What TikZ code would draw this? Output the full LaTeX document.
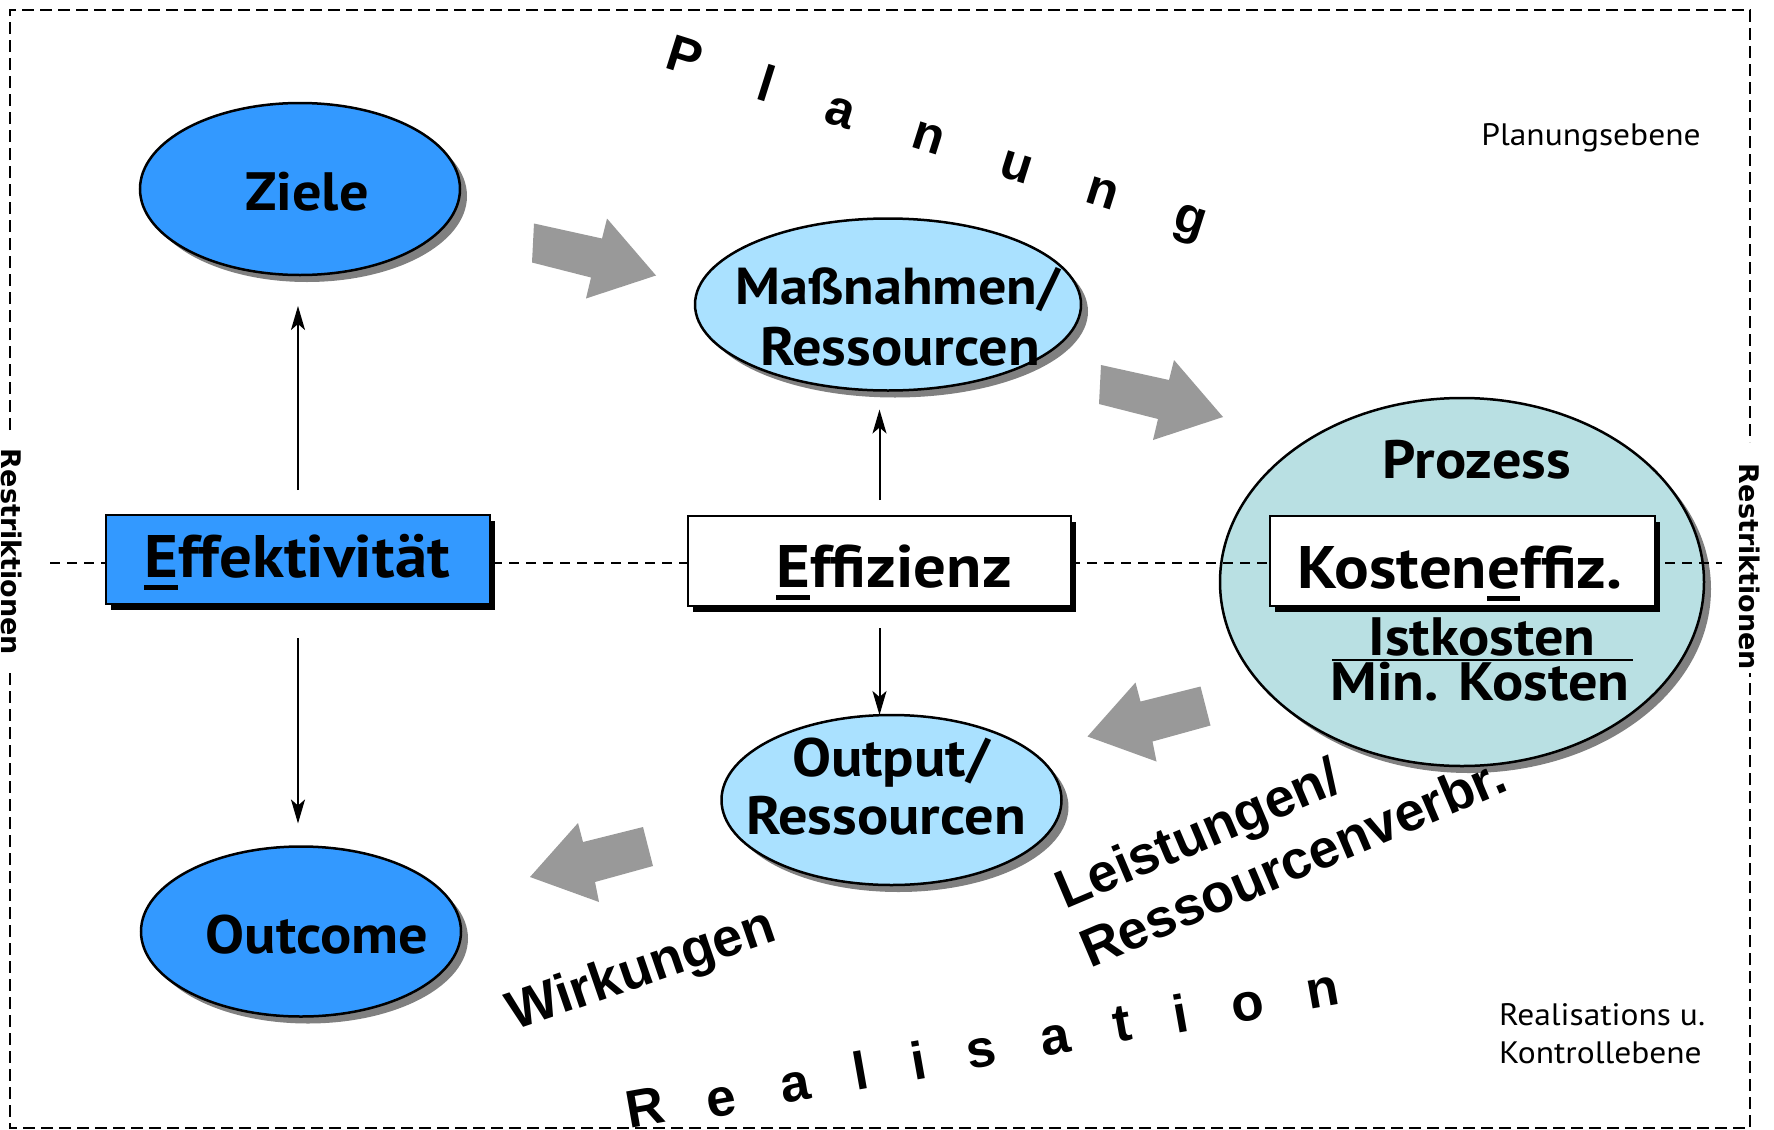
\documentclass[tikz,border=0pt]{standalone}
\usepackage{fontspec}
\setmainfont{PT Sans}[FakeStretch=1.08]
\newfontfamily\arialfont{Liberation Sans}
\newfontfamily\sidefont{DejaVu Sans}
\usetikzlibrary{shapes.geometric, arrows.meta, shadows}

\definecolor{deepblue}{HTML}{3399FF}
\definecolor{paleblue}{HTML}{AAE1FF}
\definecolor{paleteal}{HTML}{B9E0E3}
\definecolor{arrowgray}{HTML}{999999}

% thick underline under a single character
\newcommand\ulc[1]{\setbox0\hbox{#1}\rlap{\rule[-0.22em]{\wd0}{0.085em}}#1}

\tikzset{
  every node/.style={inner sep=0pt, outer sep=0pt},
  oval/.style={ellipse, draw, line width=1.25pt,
    drop shadow={shadow xshift=3.5pt, shadow yshift=-3.5pt, fill=black!50, opacity=1}},
  panel/.style={rectangle, draw, line width=1.25pt,
    drop shadow={shadow xshift=2.5pt, shadow yshift=-3pt, fill=black, opacity=1}},
  bigtxt/.style={anchor=base, font=\fontsize{27}{32}\selectfont\bfseries},
  boxtxt/.style={anchor=base, font=\fontsize{30}{36}\selectfont\bfseries},
  arcletter/.style={anchor=center, font=\arialfont\fontsize{25.5}{30}\selectfont\bfseries},
  slanttxt/.style={anchor=center, font=\arialfont\fontsize{27}{32}\selectfont\bfseries},
  smalltxt/.style={font=\fontsize{15.5}{19}\selectfont},
  sidetxt/.style={anchor=center, font=\sidefont\fontsize{13.5}{16}\selectfont\bfseries},
  frame/.style={line width=1pt, dash pattern=on 6pt off 3pt},
  midline/.style={line width=1pt, dash pattern=on 5pt off 3.5pt},
  thinarrow/.style={line width=1pt, -{Stealth[length=12pt, width=7pt, inset=3pt]}},
  fatright/.pic={\fill[arrowgray] (1,-19) -- (69,-4) -- (74,-24) -- (123,33)
      -- (53,56) -- (58,35) -- (-1,20) -- cycle;},
  fatleft/.pic={\fill[arrowgray] (-70,-23.5) -- (-65,-4.5) -- (-5,-19.5) -- (5,19.5)
      -- (-53,35.5) -- (-49,55.5) -- (-118,30.5) -- cycle;}
}

\begin{document}
\begin{tikzpicture}[x=0.5pt, y=-0.5pt]
\useasboundingbox (0,0) rectangle (1774,1130);

% outer dashed frame, open where the side labels sit
\draw[frame] (10,430) -- (10,10) -- (1750,10) -- (1750,442);
\draw[frame] (10,673) -- (10,1128) -- (1750,1128) -- (1750,673);
\node[sidetxt, rotate=-90] (restL) at (12,552) {Restriktionen};
\node[sidetxt, rotate=-90] (restR) at (1750,567) {Restriktionen};

% level captions
\node[smalltxt, anchor=base] (planEbene) at (1591,145) {Planungsebene};
\node[smalltxt, anchor=base west] (realEbeneA) at (1499,1025) {Realisations u.};
\node[smalltxt, anchor=base west] (realEbeneB) at (1499,1063) {Kontrollebene};

% ellipses
\node[oval, fill=deepblue, minimum width=160pt, minimum height=86pt] (ziele) at (300,189) {};
\node[oval, fill=paleblue, minimum width=193pt, minimum height=86pt] (mass) at (888,304.5) {};
\node[oval, fill=paleteal, minimum width=242pt, minimum height=184pt] (proz) at (1462,582) {};
\node[oval, fill=paleblue, minimum width=170pt, minimum height=85pt] (outp) at (891.5,800) {};
\node[oval, fill=deepblue, minimum width=160pt, minimum height=85pt] (outc) at (301,931.5) {};

% dividing line between the two levels
\draw[midline] (50,563) -- (1722,563);

% boxes
\node[panel, fill=deepblue, minimum width=192pt, minimum height=44.5pt] (effekt) at (298,559.5) {};
\node[panel, fill=white, minimum width=191.5pt, minimum height=45pt] (effiz) at (879.5,561) {};
\node[panel, fill=white, minimum width=192.5pt, minimum height=45pt] (keff) at (1462.5,561) {};

% texts of ellipses and boxes
\node[bigtxt] (tZiele) at (307,210) {Ziele};
\node[bigtxt, font=\fontsize{26}{31}\selectfont\bfseries] (tMassA) at (898,304) {Maßnahmen/};
\node[bigtxt] (tMassB) at (900,365) {Ressourcen};
\node[bigtxt] (tProz) at (1477,478) {Prozess};
\node[bigtxt, font=\fontsize{30}{36}\selectfont\bfseries] (tKeff) at (1460,588) {Kosten\ulc{e}ffiz.};
\node[bigtxt] (tIst) at (1482,655) {Istkosten};
\node[bigtxt] (tMin) at (1480,700) {Min. Kosten};
\draw[line width=1pt] (1332,660) -- (1633,660);
\node[bigtxt] (tOutA) at (891,776) {Output/};
\node[bigtxt] (tOutB) at (886,834) {Ressourcen};
\node[bigtxt] (tOutc) at (317,953) {Outcome};
\node[boxtxt] (tEffekt) at (297,577) {\ulc{E}ffektivität};
\node[boxtxt] (tEffiz) at (894,587) {\ulc{E}ffizienz};

% thin arrows
\draw[thinarrow, shorten <=12.5pt, shorten >=15.5pt] (effekt.north) -- (effekt.north |- ziele.south);
\draw[thinarrow, shorten <=17pt, shorten >=11.5pt] (effekt.south) -- (effekt.south |- outc.north);
\draw[thinarrow, shorten <=8pt, shorten >=9.5pt] (effiz.north) -- (effiz.north |- mass.south);
\draw[thinarrow, shorten <=11pt] (effiz.south) -- (effiz.south |- outp.north);

% broad grey flow arrows
\coordinate (flowA) at (533,242.5);
\coordinate (flowB) at (1100,384);
\coordinate (flowC) at (1205.5,706);
\coordinate (flowD) at (648,846.5);
\pic at (flowA) {fatright};
\pic at (flowB) {fatright};
\pic at (flowC) {fatleft};
\pic at (flowD) {fatleft};

% spaced arc lettering
\foreach \ch/\px/\py [count=\i] in {P/685/56, l/767/83, a/840/113, n/928/138, u/1016/168, n/1102/193, g/1189/225}
  \node[arcletter, rotate=-17.5] (plan\i) at (\px,\py) {\ch};
\foreach \ch/\px/\py [count=\i] in {R/645/1107, e/722/1102, a/796/1087, l/860/1070, i/918/1060, s/982/1053, a/1056/1040, t/1122/1024, i/1180/1013, o/1248/1007, n/1323/993}
  \node[arcletter, font=\arialfont\fontsize{26.5}{31}\selectfont\bfseries, rotate=10] (real\i) at (\px,\py) {\ch};

% slanted flow labels
\node[slanttxt, rotate=19] (wirk) at (642,972) {Wirkungen};
\node[slanttxt, rotate=23, align=left] (leist) at (1280,832) {Leistungen/\\Ressourcenverbr.};
\end{tikzpicture}
\end{document}
